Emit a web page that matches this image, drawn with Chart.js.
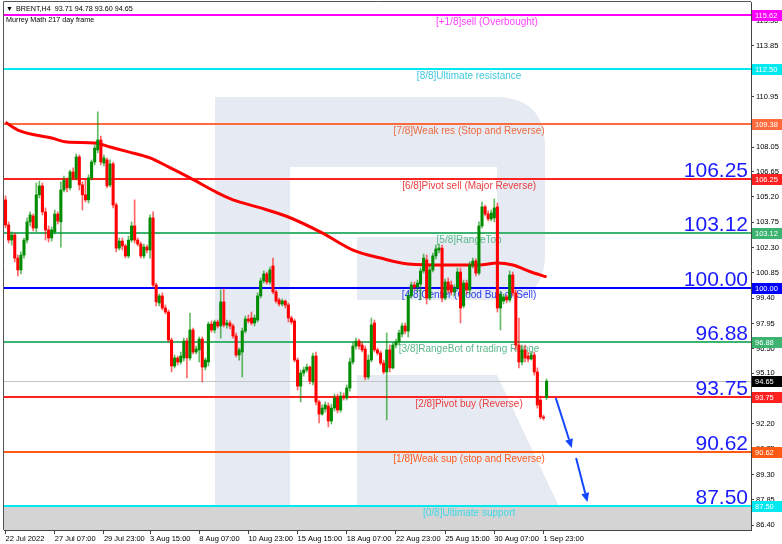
<!DOCTYPE html>
<html>
<head>
<meta charset="utf-8">
<script src="https://cdn.jsdelivr.net/npm/chart.js@4.4.0/dist/chart.umd.min.js"></script>
<style>
  html, body { margin: 0; padding: 0; background: #fff; }
  #chart { display: block; }
</style>
</head>
<body>
<canvas id="chart" width="782" height="544"></canvas>
<script>
// BRENT H4 candles, 22 Jul - 1 Sep 2022
var opens = [105.03,103.59,102.73,103.02,101.70,101.02,101.87,102.73,103.77,104.11,
  103.42,105.32,105.83,104.34,103.31,102.85,103.20,104.22,103.77,105.60,
  106.17,105.72,106.63,106.29,107.49,105.89,105.32,105.03,106.29,107.20,
  107.89,108.46,107.14,107.32,105.89,107.09,104.74,102.27,102.67,102.39,
  101.82,102.73,103.54,102.73,102.50,101.82,102.33,102.16,104.00,100.16,
  99.13,99.53,98.84,98.61,97.01,95.52,95.98,95.75,95.98,96.95,
  95.98,97.58,96.32,96.44,97.06,95.46,95.75,97.92,97.58,98.04,
  97.81,99.19,97.87,97.98,97.81,97.24,96.15,96.32,97.52,98.21,
  98.27,97.98,98.15,99.53,100.39,100.79,100.33,101.25,99.76,99.30,
  99.07,99.24,99.01,98.27,98.10,95.86,94.37,95.12,95.29,95.46,
  94.60,96.09,93.46,92.77,93.06,93.23,92.37,93.11,93.69,93.00,
  93.80,93.69,94.26,95.75,96.66,96.95,96.72,96.49,94.89,95.86,
  97.98,96.44,96.26,95.69,95.18,96.44,95.41,96.72,96.89,97.35,
  97.81,97.52,99.53,100.16,100.04,100.21,100.96,101.59,99.41,101.02,
  101.82,102.16,102.27,99.41,100.33,100.16,99.76,99.99,100.90,98.96,
  100.27,99.87,101.30,101.53,100.84,103.54,104.63,104.22,103.94,104.00,
  104.63,98.84,99.24,99.47,99.30,100.73,99.70,96.72,95.75,96.44,
  96.09,95.92,96.15,95.18,93.57,92.60,93.71];
var highs = [105.26,103.77,103.20,103.14,101.87,102.05,102.85,104.00,104.34,104.22,
  106.00,106.11,106.00,104.57,103.54,103.48,104.45,104.34,106.06,106.40,
  106.29,106.74,106.86,107.66,107.60,106.06,106.17,106.46,107.32,108.18,
  110.07,108.69,107.60,107.43,107.32,107.20,104.85,102.85,102.85,102.50,
  102.96,103.77,105.03,102.85,102.62,102.50,102.44,104.17,104.34,100.27,
  99.64,99.70,99.01,98.73,97.12,96.15,96.09,96.32,97.12,97.12,
  98.55,97.69,96.66,97.18,97.18,95.98,98.04,98.10,98.15,98.15,
  99.87,99.93,98.15,98.10,97.92,97.41,96.55,97.69,98.38,98.44,
  98.61,98.44,99.70,100.56,100.96,100.90,101.19,101.70,99.87,99.41,
  99.36,99.30,99.13,98.38,98.21,95.98,95.29,95.46,95.63,95.52,
  96.26,96.32,93.57,93.29,93.46,93.40,93.34,93.91,93.91,94.03,
  93.97,94.43,95.98,96.84,97.12,97.06,96.89,96.66,96.15,98.27,
  98.15,96.55,96.38,95.86,97.41,96.72,96.84,97.06,97.58,97.98,
  97.98,99.70,100.33,100.33,100.44,101.13,101.93,101.87,101.25,101.99,
  102.44,102.50,102.44,100.50,100.56,100.39,100.16,101.13,101.13,100.44,
  100.44,101.48,101.70,101.65,103.77,104.91,104.74,104.40,104.45,105.08,
  104.85,99.81,99.64,99.58,100.96,100.90,99.87,98.27,96.72,96.72,
  96.32,96.32,96.32,95.41,93.80,92.71,94.78];
var lows = [103.42,102.56,102.44,101.48,100.67,100.79,101.70,102.56,103.54,103.25,
  103.19,105.14,104.17,102.73,102.62,102.67,103.08,103.65,102.33,105.49,
  105.49,105.60,106.17,106.17,105.60,104.45,104.91,104.85,106.17,107.03,
  107.72,107.03,106.97,105.72,105.77,104.57,102.05,102.16,102.16,101.70,
  101.70,102.62,102.56,102.39,101.70,101.70,101.99,101.70,100.04,98.96,
  98.96,98.73,98.50,96.89,95.18,95.41,95.58,95.63,95.81,94.83,
  95.86,96.21,96.21,95.75,94.60,95.29,95.52,97.46,97.41,97.69,
  97.12,97.75,97.69,97.64,97.12,96.04,95.86,94.89,97.41,97.98,
  97.87,97.81,98.04,99.41,100.27,100.21,100.21,99.64,99.13,98.96,
  98.96,98.84,98.04,97.92,95.75,94.14,93.46,94.94,95.18,94.49,
  94.43,93.29,92.26,92.71,92.88,92.03,92.20,92.94,92.83,92.88,
  93.57,93.57,94.08,95.63,96.49,96.49,96.32,94.72,94.77,95.75,
  96.32,96.15,95.58,95.06,92.43,95.18,95.35,96.55,96.72,97.18,
  97.35,97.18,99.41,99.87,99.76,99.30,100.84,99.07,99.30,100.90,
  101.65,101.99,99.19,99.30,99.70,99.58,99.53,99.87,97.98,98.84,
  99.64,99.64,101.13,100.67,100.73,103.42,104.11,103.82,103.82,103.77,
  98.61,97.58,99.07,99.13,99.19,99.53,96.44,95.41,95.58,95.75,
  95.75,95.86,95.00,93.11,92.49,92.43,93.60];
var closes = [103.59,102.73,103.02,101.70,101.02,101.87,102.73,103.77,104.17,103.42,
  105.32,105.83,104.34,103.31,102.85,103.31,104.22,103.82,105.60,106.17,
  105.72,106.63,106.29,107.49,105.89,105.32,105.03,106.29,107.20,108.00,
  108.46,107.20,107.43,105.83,107.09,104.74,102.27,102.67,102.39,101.82,
  102.73,103.54,102.73,102.50,101.82,102.33,102.16,104.00,100.16,99.19,
  99.53,98.84,98.61,97.01,95.52,95.98,95.75,96.09,96.95,95.98,
  97.58,96.32,96.49,97.06,95.46,95.86,97.92,97.58,98.04,97.81,
  99.19,97.87,97.98,97.81,97.24,96.15,96.44,97.52,98.21,98.10,
  97.98,98.27,99.53,100.39,100.79,100.33,101.02,99.76,99.24,99.07,
  99.24,99.01,98.27,98.04,95.86,94.37,95.12,95.29,95.46,94.66,
  96.09,93.46,92.77,93.11,93.29,92.37,93.11,93.69,93.00,93.80,
  93.69,94.26,95.75,96.66,96.95,96.66,96.44,94.89,95.86,97.87,
  96.44,96.26,95.69,95.18,96.44,95.41,96.72,96.89,97.41,97.81,
  97.52,99.53,100.16,100.04,100.27,100.96,101.70,99.41,101.02,101.82,
  102.22,102.27,99.41,100.33,99.87,99.76,99.99,100.90,98.84,100.27,
  99.87,101.30,101.53,100.84,103.54,104.63,104.22,103.94,104.28,104.57,
  98.84,99.64,99.47,99.30,100.73,99.70,96.72,95.75,96.44,95.98,
  95.92,96.15,95.18,93.29,92.60,92.54,94.65];

// moving average (thick red line), sampled at candle indices
var maIndex = [0,4,15,20,29,34,40,47,53,60,69,74,83,92,103,113,122,131,143,154,160,165,171,176];
var maValues = [109.47,109.03,108.57,108.34,108.29,108.06,107.78,107.43,106.92,106.29,105.43,105.03,
  104.57,104.05,103.14,102.16,101.70,101.36,101.30,101.30,101.42,101.30,100.90,100.62];

// time axis labels and the candle they sit on
var timeLabels = ['22 Jul 2022','27 Jul 07:00','29 Jul 23:00','3 Aug 15:00','8 Aug 07:00','10 Aug 23:00',
  '15 Aug 15:00','18 Aug 07:00','22 Aug 23:00','25 Aug 15:00','30 Aug 07:00','1 Sep 23:00'];
var timeLabelIndex = [0,16,32,47,63,79,95,111,127,143,159,175];

// price axis ticks
var priceTicks = [115.30,113.85,112.40,110.95,109.50,108.05,106.65,105.20,103.75,102.30,100.85,
  99.40,97.95,96.50,95.10,93.65,92.20,90.75,89.30,87.85,86.40];

// Murrey Math levels
var levelValues = [115.62,112.50,109.38,106.25,103.12,100.00,96.88,93.75,90.62,87.50];
var levelNames = ['[+1/8]sell (Overbought)','[8/8]Ultimate resistance','[7/8]Weak res (Stop and Reverse)',
  '[6/8]Pivot sell (Major Reverse)','[5/8]RangeTop','[4/8]Center (Good Buy or Sell)',
  '[3/8]RangeBot of trading Range','[2/8]Pivot buy (Reverse)','[1/8]Weak sup (stop and Reverse)',
  '[0/8]Ultimate support'];
var bigLevels = [106.25,103.12,100.00,96.88,93.75,90.62,87.50];

// forecast arrows: [candle index, price] start and end
var arrows = [[[179, 93.69], [184.2, 90.82]], [[185.6, 90.25], [189.3, 87.73]]];

var slotCount = 243;   // candles plus the empty space on the right
var lineColors = ['#ff00ff','#00e8f0','#ff6a3d','#ff2020','#3cb371','#0000ff','#3cb371','#ff2020','#ff5a14','#00e8f0'];
var textColors = ['#ff40ff','#40c8dc','#ee6a40','#ea3c3c','#5cb88a','#2a3cf0','#5cb88a','#ea3c3c','#ff5a1e','#40d8e8'];
var UP = '#008c00', DOWN = '#ff0000';
var UP_WICK = 'rgba(0,140,0,0.6)', DOWN_WICK = 'rgba(255,0,0,0.6)';
var FONT = '"Liberation Sans", Arial, "DejaVu Sans", sans-serif';

var slots = [];
for (var s = 0; s < slotCount; s++) slots.push(s);

var bodyColors = closes.map(function (c, i) { return c >= opens[i] ? UP : DOWN; });
var wickColors = closes.map(function (c, i) { return c >= opens[i] ? UP_WICK : DOWN_WICK; });
var wickData = lows.map(function (l, i) { return [l, highs[i]]; });
var bodyData = opens.map(function (o, i) { return [o, closes[i]]; });
var maData = maIndex.map(function (idx, i) { return { x: idx, y: maValues[i] }; });

var murrey = {
  id: 'murrey',
  beforeDatasetsDraw: function (chart) {
    var ctx = chart.ctx, ca = chart.chartArea, x = chart.scales.x, y = chart.scales.y;
    ctx.save();
    ctx.beginPath();
    ctx.rect(ca.left, ca.top, ca.right - ca.left, ca.bottom - ca.top);
    ctx.clip();

    // broker logo watermark
    ctx.fillStyle = '#e6ebf3';
    ctx.fillRect(215, 97, 75, ca.bottom - 97);
    ctx.beginPath();
    ctx.moveTo(290, 97); ctx.lineTo(495, 97);
    ctx.quadraticCurveTo(545, 97, 545, 147);
    ctx.lineTo(545, 255);
    ctx.quadraticCurveTo(545, 300, 500, 300);
    ctx.lineTo(357, 300); ctx.lineTo(357, 237); ctx.lineTo(497, 237);
    ctx.lineTo(497, 167); ctx.lineTo(290, 167);
    ctx.closePath(); ctx.fill();
    ctx.beginPath();
    ctx.moveTo(357, 375); ctx.lineTo(497, 375); ctx.lineTo(570, ca.bottom); ctx.lineTo(357, ca.bottom);
    ctx.closePath(); ctx.fill();

    // grey zone under the 0/8 line
    var y0 = y.getPixelForValue(87.50);
    ctx.fillStyle = '#d4d4d4';
    ctx.fillRect(ca.left, y0, ca.right - ca.left, ca.bottom - y0);

    // current price line
    var yc = Math.round(y.getPixelForValue(closes[closes.length - 1])) + 0.5;
    ctx.strokeStyle = '#c4c4c4'; ctx.lineWidth = 1;
    ctx.beginPath(); ctx.moveTo(ca.left, yc); ctx.lineTo(ca.right, yc); ctx.stroke();

    // level lines and names
    ctx.font = '10px ' + FONT;
    ctx.textAlign = 'center';
    ctx.textBaseline = 'top';
    levelValues.forEach(function (v, i) {
      var py = Math.round(y.getPixelForValue(v));
      ctx.strokeStyle = lineColors[i]; ctx.lineWidth = 2;
      ctx.beginPath(); ctx.moveTo(ca.left, py); ctx.lineTo(ca.right, py); ctx.stroke();
      ctx.fillStyle = textColors[i];
      var tx = x.getPixelForValue(i === 0 ? 156.6 : 150.8);
      ctx.fillText(levelNames[i], tx, py + 2);
    });

    // title
    ctx.fillStyle = '#000';
    ctx.textAlign = 'left';
    ctx.textBaseline = 'middle';
    ctx.font = '7px ' + FONT;
    ctx.fillText('\u25BC', ca.left + 2, ca.top + 7);
    ctx.font = '7.2px ' + FONT;
    ctx.fillText('BRENT,H4  ' + opens[opens.length - 1].toFixed(2) + ' ' + highs[highs.length - 1].toFixed(2) + ' ' +
      lows[lows.length - 1].toFixed(2) + ' ' + closes[closes.length - 1].toFixed(2), ca.left + 12, ca.top + 7);
    ctx.fillText('Murrey Math 217 day frame', ca.left + 2, ca.top + 18);
    ctx.restore();
  },
  afterDatasetsDraw: function (chart) {
    var ctx = chart.ctx, ca = chart.chartArea, x = chart.scales.x, y = chart.scales.y;
    ctx.save();
    // big level numbers
    ctx.font = '21px ' + FONT;
    ctx.fillStyle = '#1a1aff';
    ctx.textAlign = 'right';
    ctx.textBaseline = 'alphabetic';
    bigLevels.forEach(function (v) {
      ctx.fillText(v.toFixed(2), ca.right - 3, Math.round(y.getPixelForValue(v)) - 2);
    });

    // arrows
    ctx.strokeStyle = '#1446ff'; ctx.fillStyle = '#1446ff'; ctx.lineWidth = 2;
    arrows.forEach(function (a) {
      var x1 = x.getPixelForValue(a[0][0]), y1 = y.getPixelForValue(a[0][1]);
      var x2 = x.getPixelForValue(a[1][0]), y2 = y.getPixelForValue(a[1][1]);
      var ang = Math.atan2(y2 - y1, x2 - x1), L = 9, W = 4;
      var bx = x2 - L * Math.cos(ang), by = y2 - L * Math.sin(ang);
      ctx.beginPath(); ctx.moveTo(x1, y1); ctx.lineTo(bx, by); ctx.stroke();
      ctx.beginPath();
      ctx.moveTo(x2, y2);
      ctx.lineTo(bx + W * Math.sin(ang), by - W * Math.cos(ang));
      ctx.lineTo(bx - W * Math.sin(ang), by + W * Math.cos(ang));
      ctx.closePath(); ctx.fill();
    });

    // frame
    ctx.strokeStyle = '#555'; ctx.lineWidth = 1;
    ctx.beginPath();
    ctx.moveTo(ca.left - 0.5, ca.bottom); ctx.lineTo(ca.left - 0.5, ca.top - 0.5); ctx.lineTo(ca.right, ca.top - 0.5);
    ctx.stroke();
    ctx.restore();
  },
  afterDraw: function (chart) {
    var ctx = chart.ctx, ca = chart.chartArea, y = chart.scales.y;
    ctx.save();
    ctx.font = '7.5px ' + FONT;
    ctx.textAlign = 'left';
    ctx.textBaseline = 'middle';
    var tags = levelValues.map(function (v, i) { return [v, lineColors[i]]; });
    tags.push([closes[closes.length - 1], '#000000']);
    tags.forEach(function (t) {
      var py = Math.round(y.getPixelForValue(t[0]));
      ctx.fillStyle = t[1];
      ctx.fillRect(ca.right + 1, py - 5, 30, 11);
      ctx.fillStyle = '#fff';
      ctx.fillText(t[0].toFixed(2), ca.right + 4, py + 0.5);
    });
    ctx.restore();
  }
};

new Chart(document.getElementById('chart'), {
  type: 'bar',
  data: {
    labels: slots,
    datasets: [
      {
        type: 'line', label: 'MA', data: maData, order: 2,
        borderColor: '#ff0000', borderWidth: 3, pointRadius: 0,
        cubicInterpolationMode: 'monotone', spanGaps: true
      },
      {
        label: 'wicks', data: wickData, order: 1, grouped: false,
        backgroundColor: wickColors, barThickness: 1, borderWidth: 0
      },
      {
        label: 'bodies', data: bodyData, order: 0, grouped: false,
        backgroundColor: bodyColors, barThickness: 2.4, borderWidth: 0, minBarLength: 1
      }
    ]
  },
  options: {
    responsive: false,
    devicePixelRatio: 1,
    animation: false,
    layout: { padding: { top: 2, left: 4, right: 0, bottom: 0 } },
    plugins: { legend: { display: false }, tooltip: { enabled: false } },
    scales: {
      x: {
        type: 'category',
        offset: true,
        afterBuildTicks: function (axis) {
          axis.ticks = timeLabelIndex.map(function (i) { return { value: i }; });
        },
        afterFit: function (axis) {
          axis.height = 14;
          axis.paddingLeft = 0; axis.paddingRight = 0;
        },
        ticks: {
          autoSkip: false, maxRotation: 0, minRotation: 0, align: 'start', padding: 0,
          color: '#000', font: { family: FONT, size: 7.5 },
          callback: function (val) {
            var k = timeLabelIndex.indexOf(val);
            return k >= 0 ? timeLabels[k] : '';
          }
        },
        grid: { display: true, drawOnChartArea: false, offset: false, tickLength: 4, color: '#444' },
        border: { display: true, color: '#444' }
      },
      y: {
        type: 'linear',
        position: 'right',
        min: 86.13,
        max: 116.36,
        afterBuildTicks: function (axis) {
          axis.ticks = priceTicks.map(function (v) { return { value: v }; });
        },
        afterFit: function (axis) {
          axis.width = 31;
          axis.paddingTop = 0; axis.paddingBottom = 0;
        },
        ticks: {
          padding: 2, color: '#000', font: { family: FONT, size: 7.5 },
          callback: function (v) { return Number(v).toFixed(2); }
        },
        grid: { display: true, drawOnChartArea: false, tickLength: 3, color: '#444' },
        border: { display: true, color: '#444' }
      }
    }
  },
  plugins: [murrey]
});
</script>
</body>
</html>
